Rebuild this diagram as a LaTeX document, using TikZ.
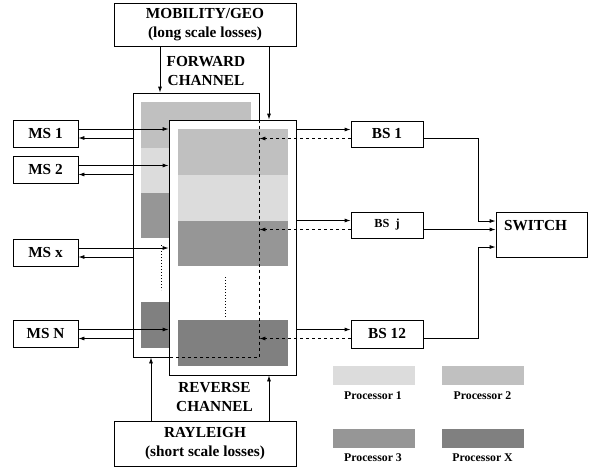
\documentclass[tikz,border=0pt]{standalone}
\usepackage{fontspec}
\setmainfont{Liberation Serif}
\usetikzlibrary{arrows.meta,calc}
\definecolor{pone}{HTML}{DCDCDC}
\definecolor{ptwo}{HTML}{C0C0C0}
\definecolor{pthree}{HTML}{969696}
\definecolor{px}{HTML}{808080}
\begin{document}
\begin{tikzpicture}[x=1pt,y=-1pt,line width=0.8pt,
  bigf/.style={font=\fontsize{15.3}{19}\selectfont\bfseries},
  smallf/.style={font=\fontsize{11.8}{14}\selectfont\bfseries},
  box/.style={draw,fill=white,inner sep=0pt,bigf,align=center},
  txt/.style={inner sep=0pt,bigf,align=center},
  arr/.style={-{Latex[length=6pt,width=4pt]}},
  chan/.style={draw,fill=white,inner sep=0pt},
  swatch/.style={inner sep=0pt,minimum width=82pt,minimum height=19pt},
  leglab/.style={inner sep=0pt,smallf}]
\useasboundingbox (0,0) rectangle (591,469);

% top and bottom boxes
\node[box,minimum width=182pt,minimum height=43pt] (mob) at (205,24.5) {MOBILITY/GEO\\(long scale losses)};
\node[box,minimum width=182pt,minimum height=45pt] (ray) at (205,443.5) {RAYLEIGH\\(short scale losses)};
\node[txt] (fwdlbl) at (206,71) {FORWARD\\CHANNEL};
\node[txt] (revlbl) at (214.5,397.5) {REVERSE\\CHANNEL};

% forward channel (back)
\node[chan,minimum width=126pt,minimum height=264pt] (back) at (196,225) {};
\fill[ptwo] (141,102) rectangle (251,148);
\fill[pone] (141,148) rectangle (251,193);
\fill[pthree] (141,193) rectangle (251,238);
\fill[px] (141,302) rectangle (251,348);
\draw[dotted,line width=1pt] (161,245) -- (161,290);

% reverse channel (front)
\node[chan,minimum width=127pt,minimum height=255pt] (front) at (232.5,247.5) {};
\fill[ptwo] (178,129) rectangle (288,175);
\fill[pone] (178,175) rectangle (288,221);
\fill[pthree] (178,221) rectangle (288,266);
\fill[px] (178,320) rectangle (288,366);
\draw[dotted,line width=1pt] (225,277) -- (225,318);

% hidden edges of forward channel
\draw[dashed] (front.north -| back.east) -- (back.south east) -- (back.south -| front.west);

% arrows from MOBILITY / RAYLEIGH
\coordinate (xa) at (160,0);
\coordinate (xb) at (269,0);
\coordinate (xc) at (151,0);
\draw[arr] (mob.south -| xa) -- (back.north -| xa);
\draw[arr] (mob.south -| xb) -- (front.north -| xb);
\draw[arr] (ray.north -| xc) -- (back.south -| xc);
\draw[arr] (ray.north -| xb) -- (front.south -| xb);

% MS boxes
\node[box,minimum width=65pt,minimum height=27pt] (ms1) at (45.5,133.5) {MS 1};
\node[box,minimum width=65pt,minimum height=27pt] (ms2) at (45.5,170) {MS 2};
\node[box,minimum width=65pt,minimum height=27pt] (msx) at (45.5,252.5) {MS x};
\node[box,minimum width=65pt,minimum height=27pt] (msn) at (45.5,334) {MS N};
\foreach \n in {ms1,ms2,msx,msn}{
  \coordinate (\n a) at ([yshift=4.5pt]\n.east);
  \coordinate (\n b) at ([yshift=-4.5pt]\n.east);
  \draw[arr] (\n a) -- (\n a -| front.west);
  \draw[arr] (\n b -| back.west) -- (\n b);
}

% BS boxes
\node[box,minimum width=72pt,minimum height=26pt] (bs1) at (387,134) {BS 1};
\node[box,minimum width=72pt,minimum height=26pt,font=\fontsize{12.3}{14}\selectfont\bfseries] (bsj) at (387,225) {BS\ \ j};
\node[box,minimum width=72pt,minimum height=28pt] (bs12) at (387,334) {BS 12};
\foreach \n in {bs1,bsj,bs12}{
  \coordinate (\n a) at ([yshift=4.5pt]\n.west);
  \coordinate (\n b) at ([yshift=-4.5pt]\n.west);
  \coordinate (\n c) at ([yshift=-4.5pt]\n.east);
  \draw[arr] (\n a -| front.east) -- (\n a);
  \draw[arr,dashed] (\n b) -- (\n b -| back.east);
}

% switch
\node[draw,inner sep=0pt,minimum width=91pt,minimum height=45pt] (switch) at (541.5,234.5) {};
\node[txt] (switchlbl) at (535.5,226) {SWITCH};
\coordinate (xs) at (478,0);
\coordinate (s1) at ([yshift=13.5pt]switch.west);
\coordinate (s3) at ([yshift=-12.5pt]switch.west);
\draw[arr] (bs1c) -| (xs |- s1) -- (s1);
\draw[arr] (bsjc) -- (bsjc -| switch.west);
\draw[arr] (bs12c) -| (xs |- s3) -- (s3);

% legend
\node[swatch,fill=pone] (l1) at (374,375.5) {};
\node[swatch,fill=ptwo] (l2) at (483,375.5) {};
\node[swatch,fill=pthree] (l3) at (374,438.5) {};
\node[swatch,fill=px] (l4) at (483,438.5) {};
\node[leglab] (l1t) at (373,396) {Processor 1};
\node[leglab] (l2t) at (482.5,396) {Processor 2};
\node[leglab] (l3t) at (373,458) {Processor 3};
\node[leglab] (l4t) at (482.5,458) {Processor X};
\end{tikzpicture}
\end{document}
